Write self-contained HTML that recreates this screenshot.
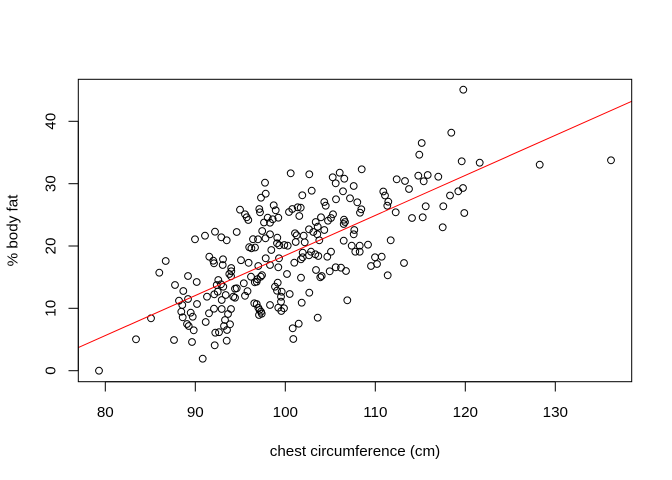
<!DOCTYPE html>
<html><head><meta charset="utf-8"><style>
html,body{margin:0;padding:0;background:#fff;}
svg{display:block;}
text{font-family:"Liberation Sans",Arial,sans-serif;font-size:15.2px;fill:#000;}
</style></head><body>
<svg width="672" height="480" viewBox="0 0 672 480" xmlns="http://www.w3.org/2000/svg">
<rect x="0" y="0" width="672" height="480" fill="#fff"/>
<g fill="none" stroke="#000" stroke-width="1">
<circle cx="99" cy="370.7" r="3.4"/>
<circle cx="136" cy="339.3" r="3.4"/>
<circle cx="151" cy="318.3" r="3.4"/>
<circle cx="159.3" cy="272.7" r="3.4"/>
<circle cx="165.7" cy="261" r="3.4"/>
<circle cx="174" cy="340" r="3.4"/>
<circle cx="175" cy="285" r="3.4"/>
<circle cx="179" cy="300.7" r="3.4"/>
<circle cx="181.3" cy="311.7" r="3.4"/>
<circle cx="182.3" cy="305" r="3.4"/>
<circle cx="182.7" cy="317.3" r="3.4"/>
<circle cx="183.3" cy="291" r="3.4"/>
<circle cx="187" cy="324" r="3.4"/>
<circle cx="188.7" cy="326" r="3.4"/>
<circle cx="188" cy="276" r="3.4"/>
<circle cx="188" cy="299" r="3.4"/>
<circle cx="190.7" cy="312.7" r="3.4"/>
<circle cx="192.7" cy="316.7" r="3.4"/>
<circle cx="193.7" cy="330.3" r="3.4"/>
<circle cx="192" cy="342" r="3.4"/>
<circle cx="195" cy="239.3" r="3.4"/>
<circle cx="196.7" cy="282" r="3.4"/>
<circle cx="197" cy="304" r="3.4"/>
<circle cx="202.7" cy="358.7" r="3.4"/>
<circle cx="205" cy="235.7" r="3.4"/>
<circle cx="205.7" cy="322" r="3.4"/>
<circle cx="207" cy="296.7" r="3.4"/>
<circle cx="209" cy="313.3" r="3.4"/>
<circle cx="209.3" cy="256.7" r="3.4"/>
<circle cx="213.3" cy="260.7" r="3.4"/>
<circle cx="214" cy="263.3" r="3.4"/>
<circle cx="214" cy="308.7" r="3.4"/>
<circle cx="214.7" cy="345.3" r="3.4"/>
<circle cx="215" cy="231.7" r="3.4"/>
<circle cx="214.3" cy="294.3" r="3.4"/>
<circle cx="217.7" cy="291.7" r="3.4"/>
<circle cx="215.3" cy="332.7" r="3.4"/>
<circle cx="219" cy="332.2" r="3.4"/>
<circle cx="216.7" cy="285" r="3.4"/>
<circle cx="218.3" cy="280" r="3.4"/>
<circle cx="221" cy="284.3" r="3.4"/>
<circle cx="221.3" cy="237.3" r="3.4"/>
<circle cx="221.7" cy="300" r="3.4"/>
<circle cx="221.7" cy="309" r="3.4"/>
<circle cx="223" cy="259.3" r="3.4"/>
<circle cx="222.7" cy="265" r="3.4"/>
<circle cx="223.3" cy="286.7" r="3.4"/>
<circle cx="225" cy="320" r="3.4"/>
<circle cx="224" cy="326" r="3.4"/>
<circle cx="230" cy="324.3" r="3.4"/>
<circle cx="227" cy="330" r="3.4"/>
<circle cx="225.7" cy="295" r="3.4"/>
<circle cx="226.7" cy="240.3" r="3.4"/>
<circle cx="226.7" cy="340.7" r="3.4"/>
<circle cx="228" cy="314" r="3.4"/>
<circle cx="229.3" cy="274" r="3.4"/>
<circle cx="231.3" cy="271.3" r="3.4"/>
<circle cx="231.2" cy="268" r="3.4"/>
<circle cx="231" cy="309" r="3.4"/>
<circle cx="231" cy="276.3" r="3.4"/>
<circle cx="233.3" cy="296.7" r="3.4"/>
<circle cx="235" cy="288.7" r="3.4"/>
<circle cx="235" cy="297.7" r="3.4"/>
<circle cx="236.7" cy="232" r="3.4"/>
<circle cx="236.7" cy="288.3" r="3.4"/>
<circle cx="241" cy="260.2" r="3.4"/>
<circle cx="243.8" cy="283.3" r="3.4"/>
<circle cx="245" cy="295.8" r="3.4"/>
<circle cx="247.5" cy="291.2" r="3.4"/>
<circle cx="248.6" cy="262.8" r="3.4"/>
<circle cx="248.3" cy="220" r="3.4"/>
<circle cx="249.2" cy="247.2" r="3.4"/>
<circle cx="251.4" cy="248.3" r="3.4"/>
<circle cx="255" cy="247.5" r="3.4"/>
<circle cx="251" cy="276.7" r="3.4"/>
<circle cx="253" cy="239.2" r="3.4"/>
<circle cx="254.3" cy="303.3" r="3.4"/>
<circle cx="254.8" cy="282.3" r="3.4"/>
<circle cx="257.5" cy="279.2" r="3.4"/>
<circle cx="259.5" cy="310" r="3.4"/>
<circle cx="261" cy="311.7" r="3.4"/>
<circle cx="261.7" cy="313.7" r="3.4"/>
<circle cx="259" cy="315" r="3.4"/>
<circle cx="240" cy="209.7" r="3.4"/>
<circle cx="245" cy="214.3" r="3.4"/>
<circle cx="246.7" cy="217.3" r="3.4"/>
<circle cx="259.3" cy="209" r="3.4"/>
<circle cx="260" cy="212.3" r="3.4"/>
<circle cx="261" cy="197.7" r="3.4"/>
<circle cx="264" cy="222.5" r="3.4"/>
<circle cx="267.7" cy="217.7" r="3.4"/>
<circle cx="262.2" cy="231" r="3.4"/>
<circle cx="265.5" cy="238.3" r="3.4"/>
<circle cx="265.7" cy="258.3" r="3.4"/>
<circle cx="262" cy="275.2" r="3.4"/>
<circle cx="270" cy="305" r="3.4"/>
<circle cx="290.7" cy="173.3" r="3.4"/>
<circle cx="309.3" cy="174.3" r="3.4"/>
<circle cx="332.7" cy="177.3" r="3.4"/>
<circle cx="339.7" cy="172.7" r="3.4"/>
<circle cx="344.3" cy="178.7" r="3.4"/>
<circle cx="335.7" cy="183.3" r="3.4"/>
<circle cx="361.7" cy="169.3" r="3.4"/>
<circle cx="265" cy="182.7" r="3.4"/>
<circle cx="353.7" cy="186" r="3.4"/>
<circle cx="343" cy="191.3" r="3.4"/>
<circle cx="265.7" cy="193.7" r="3.4"/>
<circle cx="311.7" cy="190.7" r="3.4"/>
<circle cx="302.3" cy="195.3" r="3.4"/>
<circle cx="350" cy="198.3" r="3.4"/>
<circle cx="336" cy="199.3" r="3.4"/>
<circle cx="324.3" cy="202" r="3.4"/>
<circle cx="357.3" cy="202.3" r="3.4"/>
<circle cx="273.7" cy="205.3" r="3.4"/>
<circle cx="275.7" cy="210.3" r="3.4"/>
<circle cx="297.7" cy="207.3" r="3.4"/>
<circle cx="292.3" cy="209" r="3.4"/>
<circle cx="300.7" cy="207.7" r="3.4"/>
<circle cx="289" cy="212" r="3.4"/>
<circle cx="325.7" cy="205.7" r="3.4"/>
<circle cx="361.3" cy="209.3" r="3.4"/>
<circle cx="360" cy="212.7" r="3.4"/>
<circle cx="299.3" cy="216" r="3.4"/>
<circle cx="333" cy="214.3" r="3.4"/>
<circle cx="331" cy="218" r="3.4"/>
<circle cx="321" cy="217.3" r="3.4"/>
<circle cx="272.7" cy="219.3" r="3.4"/>
<circle cx="278.3" cy="217.7" r="3.4"/>
<circle cx="270" cy="222.7" r="3.4"/>
<circle cx="344" cy="219.7" r="3.4"/>
<circle cx="345" cy="222" r="3.4"/>
<circle cx="343.7" cy="224" r="3.4"/>
<circle cx="315.7" cy="222" r="3.4"/>
<circle cx="328" cy="220.7" r="3.4"/>
<circle cx="317.7" cy="226.7" r="3.4"/>
<circle cx="309" cy="229.3" r="3.4"/>
<circle cx="324.3" cy="230" r="3.4"/>
<circle cx="354.3" cy="230" r="3.4"/>
<circle cx="353.7" cy="234.3" r="3.4"/>
<circle cx="270" cy="234.3" r="3.4"/>
<circle cx="295" cy="233.3" r="3.4"/>
<circle cx="296.7" cy="235.3" r="3.4"/>
<circle cx="303.7" cy="235.7" r="3.4"/>
<circle cx="277.3" cy="237.7" r="3.4"/>
<circle cx="317.3" cy="234.3" r="3.4"/>
<circle cx="313.3" cy="232" r="3.4"/>
<circle cx="258" cy="239.3" r="3.4"/>
<circle cx="277" cy="243.3" r="3.4"/>
<circle cx="279.3" cy="245.3" r="3.4"/>
<circle cx="284.3" cy="245" r="3.4"/>
<circle cx="287.7" cy="245.7" r="3.4"/>
<circle cx="295.7" cy="242" r="3.4"/>
<circle cx="304.7" cy="242.3" r="3.4"/>
<circle cx="319.3" cy="240.3" r="3.4"/>
<circle cx="343.7" cy="240.7" r="3.4"/>
<circle cx="351.7" cy="245.7" r="3.4"/>
<circle cx="359.7" cy="245.7" r="3.4"/>
<circle cx="368" cy="244.7" r="3.4"/>
<circle cx="271.3" cy="250" r="3.4"/>
<circle cx="302.7" cy="252.7" r="3.4"/>
<circle cx="311" cy="251.7" r="3.4"/>
<circle cx="315.3" cy="254.3" r="3.4"/>
<circle cx="331" cy="251.7" r="3.4"/>
<circle cx="355.3" cy="251.7" r="3.4"/>
<circle cx="359.7" cy="251.7" r="3.4"/>
<circle cx="279" cy="258.3" r="3.4"/>
<circle cx="302.7" cy="257.3" r="3.4"/>
<circle cx="301" cy="259.3" r="3.4"/>
<circle cx="309" cy="255.3" r="3.4"/>
<circle cx="318.3" cy="256" r="3.4"/>
<circle cx="327.3" cy="256.7" r="3.4"/>
<circle cx="375" cy="257.3" r="3.4"/>
<circle cx="381.7" cy="256.7" r="3.4"/>
<circle cx="258.3" cy="266" r="3.4"/>
<circle cx="270" cy="265" r="3.4"/>
<circle cx="278.3" cy="267.3" r="3.4"/>
<circle cx="260.7" cy="276.7" r="3.4"/>
<circle cx="256.7" cy="281.7" r="3.4"/>
<circle cx="294.3" cy="262.7" r="3.4"/>
<circle cx="287" cy="274" r="3.4"/>
<circle cx="301" cy="277.7" r="3.4"/>
<circle cx="316" cy="270" r="3.4"/>
<circle cx="320.3" cy="277.3" r="3.4"/>
<circle cx="321.7" cy="276" r="3.4"/>
<circle cx="329.7" cy="271.3" r="3.4"/>
<circle cx="335.7" cy="267.3" r="3.4"/>
<circle cx="341" cy="267.7" r="3.4"/>
<circle cx="346" cy="271" r="3.4"/>
<circle cx="371" cy="266" r="3.4"/>
<circle cx="377" cy="264" r="3.4"/>
<circle cx="277.7" cy="282.7" r="3.4"/>
<circle cx="275" cy="286.7" r="3.4"/>
<circle cx="277" cy="290.7" r="3.4"/>
<circle cx="281.7" cy="291.7" r="3.4"/>
<circle cx="289.7" cy="294" r="3.4"/>
<circle cx="309.3" cy="292.7" r="3.4"/>
<circle cx="281" cy="296.7" r="3.4"/>
<circle cx="281" cy="301.7" r="3.4"/>
<circle cx="278.3" cy="307.7" r="3.4"/>
<circle cx="284" cy="308.3" r="3.4"/>
<circle cx="281.3" cy="311" r="3.4"/>
<circle cx="301.7" cy="302.7" r="3.4"/>
<circle cx="347.3" cy="300.3" r="3.4"/>
<circle cx="256.7" cy="304" r="3.4"/>
<circle cx="258.3" cy="307.7" r="3.4"/>
<circle cx="317.7" cy="317.7" r="3.4"/>
<circle cx="298.7" cy="323.7" r="3.4"/>
<circle cx="292.7" cy="328.3" r="3.4"/>
<circle cx="293.3" cy="339" r="3.4"/>
<circle cx="463.3" cy="89.7" r="3.4"/>
<circle cx="451.3" cy="132.7" r="3.4"/>
<circle cx="421.7" cy="143" r="3.4"/>
<circle cx="419.3" cy="154.7" r="3.4"/>
<circle cx="461.7" cy="161.3" r="3.4"/>
<circle cx="479.7" cy="162.7" r="3.4"/>
<circle cx="396.7" cy="179.3" r="3.4"/>
<circle cx="405" cy="181" r="3.4"/>
<circle cx="409" cy="189" r="3.4"/>
<circle cx="418.3" cy="175.7" r="3.4"/>
<circle cx="427.7" cy="175" r="3.4"/>
<circle cx="423.7" cy="181.3" r="3.4"/>
<circle cx="438.3" cy="176.7" r="3.4"/>
<circle cx="463" cy="188" r="3.4"/>
<circle cx="458.3" cy="191.3" r="3.4"/>
<circle cx="450" cy="195.5" r="3.4"/>
<circle cx="383.3" cy="191.5" r="3.4"/>
<circle cx="385" cy="195.5" r="3.4"/>
<circle cx="388.3" cy="201.7" r="3.4"/>
<circle cx="387.3" cy="205.7" r="3.4"/>
<circle cx="395.7" cy="212.3" r="3.4"/>
<circle cx="425.7" cy="206.3" r="3.4"/>
<circle cx="443.3" cy="206.3" r="3.4"/>
<circle cx="464.3" cy="213" r="3.4"/>
<circle cx="412" cy="218" r="3.4"/>
<circle cx="422.7" cy="217.3" r="3.4"/>
<circle cx="442.7" cy="227.3" r="3.4"/>
<circle cx="390.7" cy="240.3" r="3.4"/>
<circle cx="404" cy="263" r="3.4"/>
<circle cx="387.7" cy="275.3" r="3.4"/>
<circle cx="539.7" cy="164.7" r="3.4"/>
<circle cx="611" cy="160.3" r="3.4"/>
</g>
<line x1="78.3" y1="347.6" x2="631.7" y2="101.3" stroke="#ff0000" stroke-width="1"/>
<rect x="78.3" y="79.3" width="553.4" height="302.4" fill="none" stroke="#000" stroke-width="1"/>
<g stroke="#000" stroke-width="1">
<line x1="105.3" y1="381.7" x2="555.3" y2="381.7"/>
<line x1="105.3" y1="381.7" x2="105.3" y2="391.5"/>
<line x1="195.3" y1="381.7" x2="195.3" y2="391.5"/>
<line x1="285.3" y1="381.7" x2="285.3" y2="391.5"/>
<line x1="375.3" y1="381.7" x2="375.3" y2="391.5"/>
<line x1="465.3" y1="381.7" x2="465.3" y2="391.5"/>
<line x1="555.3" y1="381.7" x2="555.3" y2="391.5"/>
<line x1="78.3" y1="370.7" x2="78.3" y2="121.3"/>
<line x1="68.5" y1="370.7" x2="78.3" y2="370.7"/>
<line x1="68.5" y1="308.3" x2="78.3" y2="308.3"/>
<line x1="68.5" y1="246" x2="78.3" y2="246"/>
<line x1="68.5" y1="183.7" x2="78.3" y2="183.7"/>
<line x1="68.5" y1="121.3" x2="78.3" y2="121.3"/>
</g>
<g text-anchor="middle">
<text x="105.3" y="417">80</text>
<text x="195.3" y="417">90</text>
<text x="285.3" y="417">100</text>
<text x="375.3" y="417">110</text>
<text x="465.3" y="417">120</text>
<text x="555.3" y="417">130</text>
<text x="355" y="456">chest circumference (cm)</text>
<text transform="translate(55.5,370.7) rotate(-90)">0</text>
<text transform="translate(55.5,308.3) rotate(-90)">10</text>
<text transform="translate(55.5,246) rotate(-90)">20</text>
<text transform="translate(55.5,183.7) rotate(-90)">30</text>
<text transform="translate(55.5,121.3) rotate(-90)">40</text>
<text transform="translate(17.5,230.5) rotate(-90)">% body fat</text>
</g>
</svg>
</body></html>
